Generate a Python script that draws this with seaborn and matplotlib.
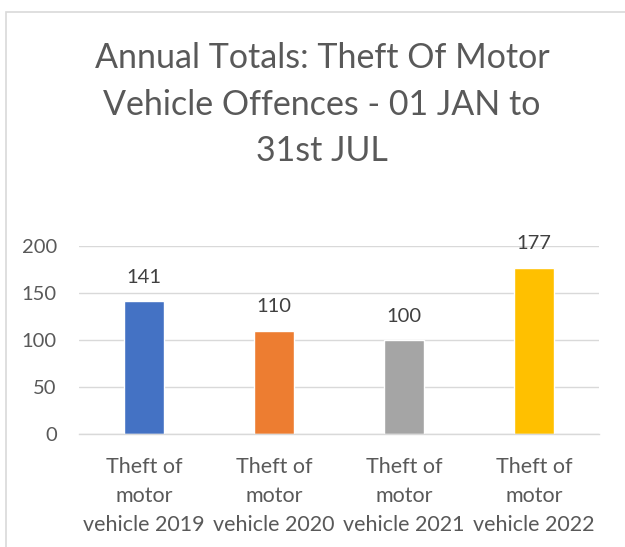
import matplotlib
matplotlib.use("Agg")
import matplotlib.pyplot as plt
import seaborn as sns
import pandas as pd
from matplotlib.patches import Rectangle

# datos del grafico
categorias = ["Theft of\nmotor\nvehicle 2019", "Theft of\nmotor\nvehicle 2020",
              "Theft of\nmotor\nvehicle 2021", "Theft of\nmotor\nvehicle 2022"]
valores = [141, 110, 100, 177]
colores = ["#4472C4", "#ED7D31", "#A5A5A5", "#FFC000"]
yticks = [0, 50, 100, 150, 200]
titulo = "Annual Totals: Theft Of Motor\nVehicle Offences - 01 JAN to\n31st JUL"

sns.set_theme(style="white")
plt.rcParams['font.family'] = ['Lato', 'DejaVu Sans']

gris_texto = "#595959"
gris_linea = "#D9D9D9"

W, H = 625, 547
fig = plt.figure(figsize=(W / 100, H / 100), dpi=100)
fig.patch.set_facecolor("white")

# marco del grafico (estilo Excel)
fig.patches.append(Rectangle((6 / W, -0.05), 1.1, 1 - 12 / H + 0.05,
                             transform=fig.transFigure, fill=False,
                             edgecolor=gris_linea, linewidth=1.2))

ax = fig.add_axes([79 / W, (H - 434) / H, 520 / W, 188 / H])

df = pd.DataFrame({"categoria": categorias, "valor": valores})
sns.barplot(data=df, x="categoria", y="valor", hue="categoria",
            palette=colores, legend=False, width=0.315, saturation=1, ax=ax)

ax.set_ylim(0, 200)
ax.set_yticks(yticks)
ax.set_xlim(-0.5, len(categorias) - 0.5)
ax.yaxis.grid(True, color=gris_linea, linewidth=1.0)
ax.set_axisbelow(True)
for s in ["top", "right", "left"]:
    ax.spines[s].set_visible(False)
ax.spines["bottom"].set_color(gris_linea)
ax.spines["bottom"].set_linewidth(1.0)
ax.set_xlabel("")
ax.set_ylabel("")
ax.tick_params(axis="y", length=0, pad=16, labelsize=14.5, labelcolor=gris_texto)
ax.tick_params(axis="x", length=0, pad=16.5, labelsize=15.5, labelcolor=gris_texto)
for lbl in ax.get_xticklabels():
    lbl.set_linespacing(1.58)

for cont in ax.containers:
    ax.bar_label(cont, padding=11, fontsize=14.5, color="#404040")

fig.text(322 / W, 1 - 42 / H, titulo, ha="center", va="top", fontsize=24.5,
         color=gris_texto, linespacing=1.56)

fig.savefig("out.png", dpi=100)
